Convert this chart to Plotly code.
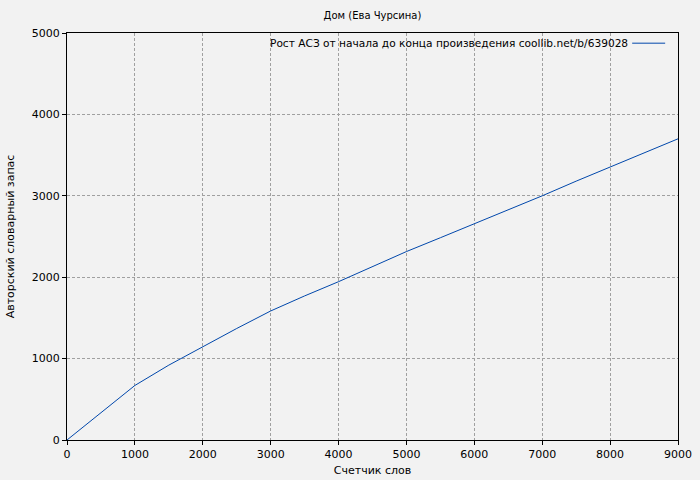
import plotly.graph_objects as go

# счетчик слов и авторский словарный запас
words = [0, 500, 1000, 1500, 2000, 2500, 3000, 3500, 4000, 4500,
         5000, 5500, 6000, 6500, 7000, 7500, 8000, 8500, 9000]
vocab = [0, 340, 670, 920, 1150, 1370, 1585, 1770, 1945, 2135,
         2315, 2485, 2655, 2830, 3000, 3180, 3355, 3525, 3700]
x_ticks = [0, 1000, 2000, 3000, 4000, 5000, 6000, 7000, 8000, 9000]
y_ticks = [0, 1000, 2000, 3000, 4000, 5000]

title = "Дом (Ева Чурсина)"
legend_name = "Рост АСЗ от начала до конца произведения coollib.net/b/639028"
bg = "#f2f2f2"
line_col = "#0047ab"
font = dict(family="DejaVu Sans", size=11, color="black")

fig = go.Figure()
fig.add_trace(go.Scatter(x=words, y=vocab, mode="lines",
                         line=dict(color=line_col, width=1),
                         name=legend_name, showlegend=False))

axis_common = dict(showline=True, linecolor="black", linewidth=1, mirror=True,
                   showgrid=True, gridcolor="#a0a0a0", griddash="3px,2px", gridwidth=1,
                   zeroline=False, tickfont=font, ticklen=4, tickcolor="black",
                   automargin=False)
fig.update_xaxes(range=[0, 9000], tickvals=x_ticks, ticks="outside",
                 title=dict(text="Счетчик слов", font=font, standoff=6), **axis_common)
fig.update_yaxes(range=[0, 5000], tickvals=y_ticks, ticks="outside",
                 title=dict(text="Авторский словарный запас", font=font, standoff=14),
                 **axis_common)

# легенда в стиле gnuplot: текст слева, образец линии справа
fig.add_annotation(x=0.329, y=0.975, xref="paper", yref="paper", text=legend_name,
                   showarrow=False, xanchor="left", yanchor="middle",
                   font=dict(family="DejaVu Sans", size=10.6, color="black"))
fig.add_shape(type="line", xref="paper", yref="paper", x0=0.925, x1=0.979,
              y0=0.975, y1=0.975, line=dict(color=line_col, width=1))

fig.update_layout(
    width=700, height=480,
    margin=dict(l=67, r=22, t=33, b=40),
    paper_bgcolor=bg, plot_bgcolor=bg,
    font=font,
    title=dict(text=title, x=0.5, xref="paper", y=0.967, yanchor="middle",
               font=dict(family="DejaVu Sans", size=10, color="black")),
)

# убрать отступ страницы, чтобы фигура занимала всё окно
fig.write_html("out.html", config={"displayModeBar": False},
               post_script="document.body.style.margin='0';"
                           "document.body.style.overflow='hidden';"
                           "document.body.style.background='#f2f2f2';")
